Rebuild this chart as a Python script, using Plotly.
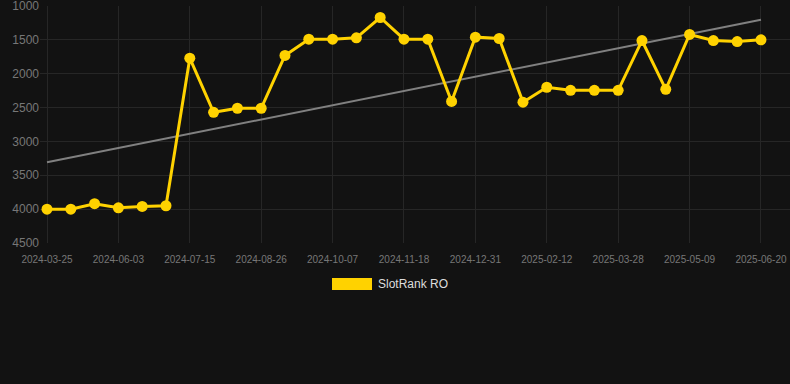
import numpy as np
import plotly.graph_objects as go

dates = [
    "2024-03-25", "2024-04-22", "2024-05-13", "2024-06-03", "2024-06-17", "2024-07-01",
    "2024-07-15", "2024-07-29", "2024-08-12", "2024-08-26", "2024-09-09", "2024-09-23",
    "2024-10-07", "2024-10-21", "2024-11-04", "2024-11-18", "2024-12-02", "2024-12-16",
    "2024-12-31", "2025-01-14", "2025-01-28", "2025-02-12", "2025-02-26", "2025-03-12",
    "2025-03-28", "2025-04-11", "2025-04-25", "2025-05-09", "2025-05-23", "2025-06-06",
    "2025-06-20",
]
ranks = [
    4000, 4000, 3920, 3980, 3960, 3950,
    1770, 2570, 2510, 2510, 1730, 1490,
    1490, 1470, 1170, 1490, 1490, 2410,
    1460, 1480, 2420, 2200, 2245, 2245,
    2245, 1510, 2230, 1420, 1510, 1525,
    1500,
]
series_name = "SlotRank RO"
y_ticks = [1000, 1500, 2000, 2500, 3000, 3500, 4000, 4500]
x_ticks = dates[::3]

idx = np.arange(len(ranks))
slope, intercept = np.polyfit(idx, ranks, 1)
trend = slope * idx + intercept

BG = "#121212"
GOLD = "#FFD200"

fig = go.Figure()
fig.add_trace(go.Scatter(
    x=dates, y=trend, mode="lines",
    line=dict(color="#808080", width=2), showlegend=False, hoverinfo="skip",
))
fig.add_trace(go.Scatter(
    x=dates, y=ranks, mode="lines+markers", name=series_name,
    line=dict(color=GOLD, width=3),
    marker=dict(color=GOLD, size=11),
    showlegend=False,
))

# legend (drawn manually as rectangle + label)
fig.add_shape(type="rect", xref="paper", yref="paper",
              x0=(332 - 40) / 750, x1=(372 - 40) / 750,
              y0=-(278 - 243) / 237, y1=-(290 - 243) / 237,
              fillcolor=GOLD, line=dict(width=0))
fig.add_annotation(text=series_name, xref="paper", yref="paper",
                   x=(376 - 40) / 750, y=-(284 - 243) / 237,
                   xanchor="left", yanchor="middle", showarrow=False,
                   font=dict(size=12, color="#DDDDDD", family="Liberation Sans, Arial, sans-serif"))

fig.update_layout(
    width=790, height=384,
    margin=dict(l=40, r=0, t=6, b=141),
    paper_bgcolor=BG, plot_bgcolor=BG,
    font=dict(family="Liberation Sans, Arial, sans-serif", color="#888888"),
    showlegend=False,
    xaxis=dict(
        type="category", categoryorder="array", categoryarray=dates,
        range=[-0.294, 31.22],
        tickmode="array", tickvals=x_ticks, ticktext=x_ticks,
        tickfont=dict(size=10, color="#777777"),
        ticklabelstandoff=9, ticklabeloverflow="allow",
        showgrid=True, gridcolor="#262626", gridwidth=1,
        zeroline=False, showline=False, ticks="",
    ),
    yaxis=dict(
        range=[4500, 1000], tickmode="array", tickvals=y_ticks,
        tickfont=dict(size=12, color="#777777"),
        ticklabeloverflow="allow",
        showgrid=True, gridcolor="#262626", gridwidth=1,
        zeroline=False, showline=False, ticks="",
    ),
)

fig.write_html("out.html")
